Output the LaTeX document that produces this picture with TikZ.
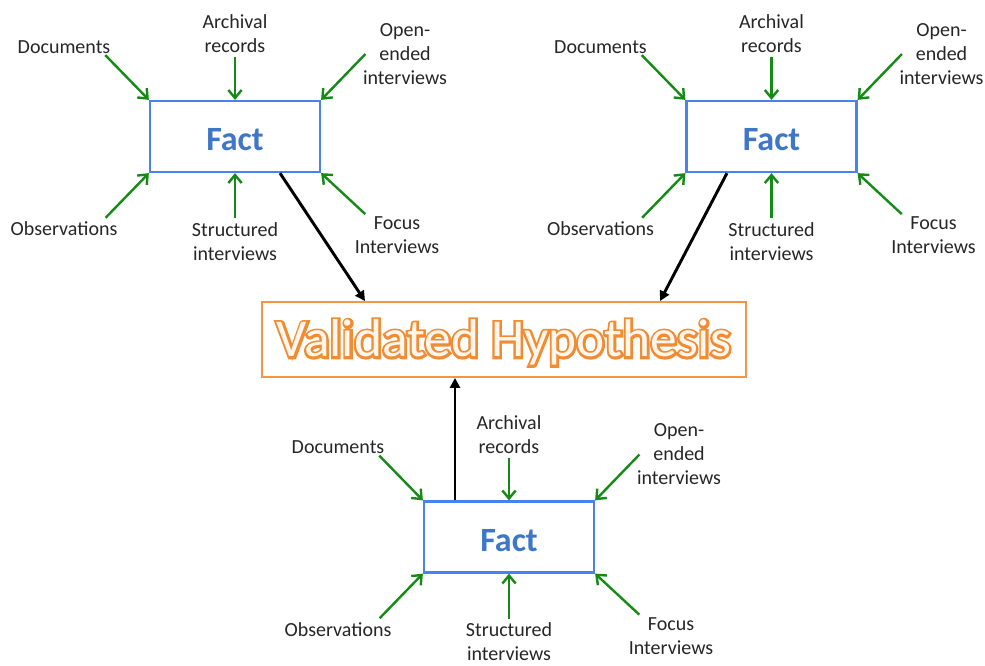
\documentclass[tikz,border=0pt]{standalone}
\usepackage{fontspec}
\setmainfont{Carlito}
\usetikzlibrary{arrows.meta,calc}
\definecolor{gline}{RGB}{22,138,22}
\definecolor{boxblue}{RGB}{72,130,240}
\definecolor{factblue}{RGB}{62,118,200}
\definecolor{hypor}{RGB}{245,150,70}
\definecolor{hypfill}{RGB}{255,246,238}
\newcommand\strokedtext[1]{\special{pdf:literal 2 Tr 3.6 w 0.95 0.55 0.2 RG}#1\special{pdf:literal 0 Tr}}
\newcommand\glowtext[1]{\rlap{\strokedtext{#1}}#1}
\tikzset{
  factbox/.style={draw=boxblue, line width=1.7pt, fill=white, minimum width=127.5pt, minimum height=53.25pt,
    font=\fontsize{25.5}{30}\selectfont\bfseries, text=factblue, text height=21pt, text depth=0pt},
  lbl/.style={inner sep=0pt, align=center, font=\fontsize{15}{18}\selectfont, text=black!85},
  garrow/.style={draw=gline, line width=1.8pt, -{Straight Barb[length=6pt,width=10pt]}},
  barrow/.style={draw=black, line width=2.2pt, -{Triangle[length=7.5pt,width=7.5pt]}},
  hypbox/.style={draw=hypor, line width=1.4pt, minimum width=363pt, minimum height=56.25pt, inner sep=0pt,
    font=\fontsize{40}{44}\selectfont, text=hypfill, text height=28pt, text depth=2pt}
}
\begin{document}
\begin{tikzpicture}[x=0.75pt,y=-0.75pt]
\useasboundingbox (0,0) rectangle (985,665);
\node[hypbox] (hyp) at (504,339.5) {\glowtext{Validated Hypothesis}};
\foreach \p/\cx/\cy in {L/235/136.5, R/771.5/136.5, B/509/537} {
  \node[factbox] (\p-box) at (\cx,\cy) {Fact};
  \node[lbl] (\p-doc) at ($(\p-box)+(-171,-89.5)$) {Documents};
  \node[lbl] (\p-arch) at ($(\p-box)+(0,-102.5)$) {Archival\\records};
  \node[lbl] (\p-open) at ($(\p-box)+(170,-82.5)$) {Open-\\ended\\interviews};
  \node[lbl] (\p-obs) at ($(\p-box)+(-171,92.5)$) {Observations};
  \node[lbl] (\p-struct) at ($(\p-box)+(0,105)$) {Structured\\interviews};
  \node[lbl] (\p-focus) at ($(\p-box)+(162,99)$) {Focus\\Interviews};
  \draw[garrow] ([xshift=-4pt,yshift=-1pt]\p-doc.south east) -- (\p-box.north west);
  \draw[garrow] ([yshift=-3pt]\p-arch.south) -- (\p-box.north);
  \draw[garrow] ([xshift=2pt]\p-open.west) -- (\p-box.north east);
  \draw[garrow] ([xshift=-9pt,yshift=3pt]\p-obs.north east) -- (\p-box.south west);
  \draw[garrow] ([yshift=3pt]\p-struct.north) -- (\p-box.south);
  \draw[garrow] ([xshift=8pt,yshift=2pt]\p-focus.north west) -- (\p-box.south east);
}
\draw[barrow] ([xshift=33.75pt]L-box.south) -- ([xshift=-104.25pt]hyp.north);
\draw[barrow] ([xshift=-33.4pt]R-box.south) -- ([xshift=117pt]hyp.north);
\draw[barrow] ([xshift=-40.5pt]B-box.north) -- ([xshift=-36.75pt]hyp.south);
\end{tikzpicture}
\end{document}
